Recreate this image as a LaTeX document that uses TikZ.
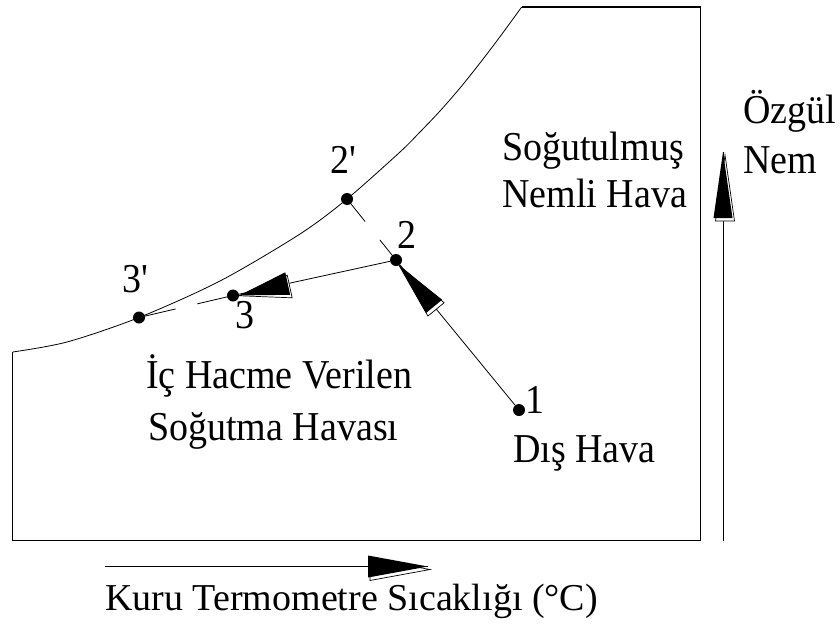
\documentclass[tikz,border=0pt]{standalone}
\usepackage{graphicx}
\usepackage{fontspec}
\setmainfont{Liberation Serif}
\usetikzlibrary{calc}
\newcommand{\shhead}[4]{% #1 tip, #2 point toward tail, #3 length, #4 half width
  \coordinate (hb) at ($(#1)!#3!(#2)$);
  \coordinate (hl) at ($(hb)!#4!90:(#1)$);
  \coordinate (hr) at ($(hb)!#4!-90:(#1)$);
  \draw[line width=0.7pt, fill=white] ([xshift=2pt,yshift=-3pt]#1) -- ([xshift=2pt,yshift=-3pt]hl) -- ([xshift=2pt,yshift=-3pt]hr) -- cycle;
  \fill[black] (#1) -- (hl) -- (hr) -- cycle;
}
\newcommand{\tx}[1]{\scalebox{1}[1.08]{#1}}
\newcommand{\prm}{\textquotesingle}
\begin{document}
\begin{tikzpicture}[x=1pt,y=-1pt,
  lbl/.style={inner sep=0pt, anchor=base west, font=\fontsize{38}{46}\selectfont},
  frame/.style={line width=1.2pt},
  thinline/.style={line width=0.8pt},
  ptdot/.style={circle, fill=black, inner sep=0pt, minimum size=12pt}]
\useasboundingbox (0,0) rectangle (840,629);
% frame and saturation curve
\draw[frame] (12.7,352) -- (12.7,540.5) -- (700.7,540.5) -- (700.7,7) -- (521.7,7);
\draw[thinline] plot[smooth, tension=0.5] coordinates {(521.7,7) (500,36.7) (480,63) (460,88) (440,111) (420,132) (400,152) (347,199) (300,234) (220,281) (139,317.5) (67,342) (12.7,352)};
% state points
\node[ptdot] (p1) at (519,410) {};
\node[ptdot] (p2) at (396,260) {};
\node[ptdot] (p3) at (233,295.5) {};
\node[ptdot] (p2p) at (347,199) {};
\node[ptdot] (p3p) at (139,317.5) {};
% process lines
\draw[thinline] (p1) -- (p2);
\shhead{p2}{p1}{60pt}{10.5pt}
\draw[thinline] (p2) -- (p3);
\shhead{p3}{p2}{56pt}{11.5pt}
% gapped guide lines
\draw[thinline] (p2p.center) -- ($(p2p.center)!0.37!(p2.center)$);
\draw[thinline] ($(p2p.center)!0.67!(p2.center)$) -- (p2.center);
\draw[thinline] (p3p.center) -- ($(p3p.center)!0.39!(p3.center)$);
\draw[thinline] ($(p3p.center)!0.62!(p3.center)$) -- (p3.center);
% axes
\coordinate (ay0) at (723,540.5);
\coordinate (ay1) at (723,152);
\draw[thinline] (ay0) -- (ay1);
\shhead{ay1}{ay0}{66pt}{9.5pt}
\coordinate (ax0) at (105,566.5);
\coordinate (ax1) at (428,566.5);
\draw[thinline] (ax0) -- (ax1);
\shhead{ax1}{ax0}{60pt}{11pt}
% labels
\node[lbl] (l1) at (525,413) {\tx{1}};
\node[lbl] (l2) at (397,248) {\tx{2}};
\node[lbl] (l3) at (235,328) {\tx{3}};
\node[lbl] (l2p) at (330,173) {\tx{2\prm}};
\node[lbl] (l3p) at (122,292) {\tx{3\prm}};
\node[lbl] (t1) at (502,160) {\tx{Soğutulmuş}};
\node[lbl] (t2) at (502,207) {\tx{Nemli Hava}};
\node[lbl] (t3) at (146,388) {\tx{İç Hacme Verilen}};
\node[lbl] (t4) at (148,440) {\tx{Soğutma Havası}};
\node[lbl] (t5) at (513,462) {\tx{Dış Hava}};
\node[lbl] (t6) at (743,123) {\tx{Özgül}};
\node[lbl] (t7) at (743,173) {\tx{Nem}};
\node[lbl] (t8) at (105,610) {Kuru Termometre Sıcaklığı (°C)};
\end{tikzpicture}
\end{document}
